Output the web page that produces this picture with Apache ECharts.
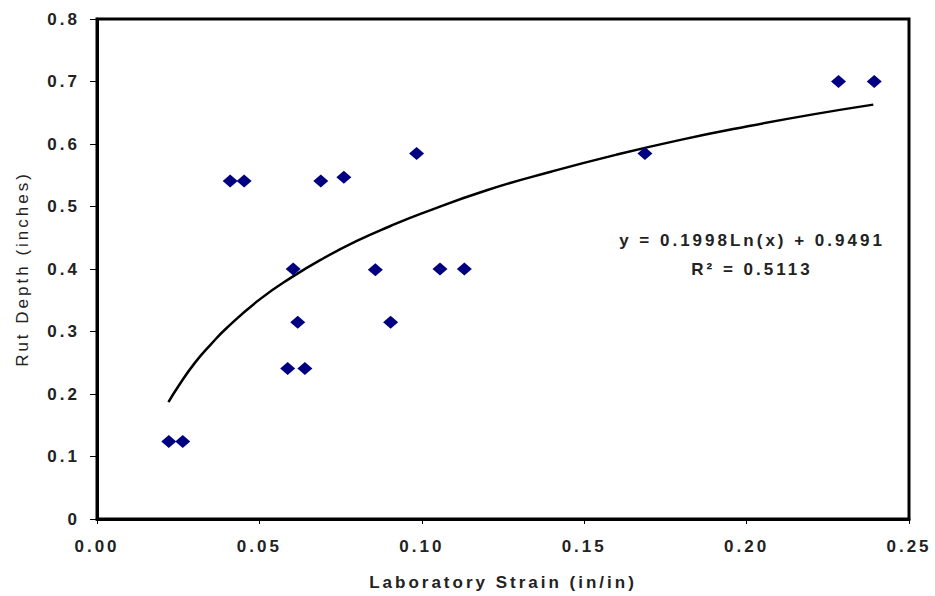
<!DOCTYPE html>
<html>
<head>
<meta charset="utf-8">
<script src="https://cdn.jsdelivr.net/npm/echarts@6/dist/echarts.min.js"></script>
<style>
  html, body { margin: 0; padding: 0; background: #fff; }
  /* the original chart has wide letter spacing on every label */
  #chart { width: 935px; height: 596px; letter-spacing: 3px; }
</style>
</head>
<body>
<div id="chart"></div>
<script>
// measured points (laboratory strain, rut depth)
var strain = [0.0221, 0.0264, 0.041, 0.0453, 0.0587, 0.0604, 0.0618, 0.064, 0.0689, 0.076,
              0.0857, 0.0904, 0.0984, 0.1056, 0.1131, 0.1687, 0.2283, 0.2393];
var rutDepth = [0.124, 0.124, 0.541, 0.541, 0.241, 0.400, 0.315, 0.241, 0.541, 0.547,
                0.399, 0.315, 0.585, 0.400, 0.400, 0.585, 0.700, 0.700];

// log trendline
var trendX = [0.022, 0.025, 0.03, 0.035, 0.04, 0.05, 0.06, 0.07, 0.08, 0.09,
              0.10, 0.12, 0.14, 0.16, 0.18, 0.20, 0.22, 0.239];
var trendY = [0.187, 0.212, 0.249, 0.279, 0.306, 0.351, 0.387, 0.418, 0.445, 0.468,
              0.489, 0.526, 0.556, 0.583, 0.607, 0.628, 0.647, 0.663];

var eqLine1 = "y = 0.1998Ln(x) + 0.9491";
var eqLine2 = "R² = 0.5113";

var myChart = echarts.init(document.getElementById("chart"), null, { renderer: "svg" });

var points = strain.map(function (x, i) { return [x, rutDepth[i]]; });
var trend = trendX.map(function (x, i) { return [x, trendY[i]]; });

var FONT = "Liberation Sans, Arial, sans-serif";
var labelFont = { color: "#222", fontSize: 17, fontWeight: "bold", fontFamily: FONT };

var option = {
  animation: false,
  grid: {
    left: 97,
    right: 26,
    top: 19,
    bottom: 77,
    show: true,
    borderColor: "#000",
    borderWidth: 3,
  },
  xAxis: {
    type: "value",
    min: 0,
    max: 0.25,
    interval: 0.05,
    name: "Laboratory Strain (in/in)",
    nameLocation: "middle",
    nameGap: 55,
    nameTextStyle: { color: "#222", fontSize: 17, fontWeight: "bold", fontFamily: FONT },
    axisLine: { lineStyle: { color: "#000", width: 3 } },
    axisTick: { show: true, length: 5, lineStyle: { color: "#000", width: 1 } },
    axisLabel: Object.assign({ margin: 19, formatter: function (v) { return v.toFixed(2); } }, labelFont),
    splitLine: { show: false },
  },
  yAxis: {
    type: "value",
    min: 0,
    max: 0.8,
    interval: 0.1,
    name: "Rut Depth (inches)",
    nameLocation: "middle",
    nameGap: 66,
    nameTextStyle: { color: "#222", fontSize: 17, fontFamily: FONT },
    axisLine: { show: true, lineStyle: { color: "#000", width: 3 } },
    axisTick: { show: true, length: 7, lineStyle: { color: "#000", width: 1 } },
    axisLabel: Object.assign({ margin: 17, formatter: function (v) { return v === 0 ? "0" : v.toFixed(1); } }, labelFont),
    splitLine: { show: false },
  },
  graphic: [
    {
      type: "text",
      x: 752,
      y: 240,
      style: {
        text: eqLine1,
        align: "center",
        verticalAlign: "middle",
        fill: "#222",
        font: "bold 17px " + FONT,
      },
    },
    {
      type: "text",
      x: 752,
      y: 269,
      style: {
        text: eqLine2,
        align: "center",
        verticalAlign: "middle",
        fill: "#222",
        font: "bold 17px " + FONT,
      },
    },
  ],
  series: [
    {
      name: "trend",
      type: "line",
      data: trend,
      smooth: true,
      showSymbol: false,
      symbol: "none",
      lineStyle: { color: "#000", width: 2.5 },
      z: 2,
    },
    {
      name: "data",
      type: "scatter",
      data: points,
      symbol: "diamond",
      symbolSize: [15, 13],
      itemStyle: { color: "#000080", opacity: 1 },
      z: 3,
    },
  ],
};
myChart.setOption(option);
</script>
</body>
</html>
